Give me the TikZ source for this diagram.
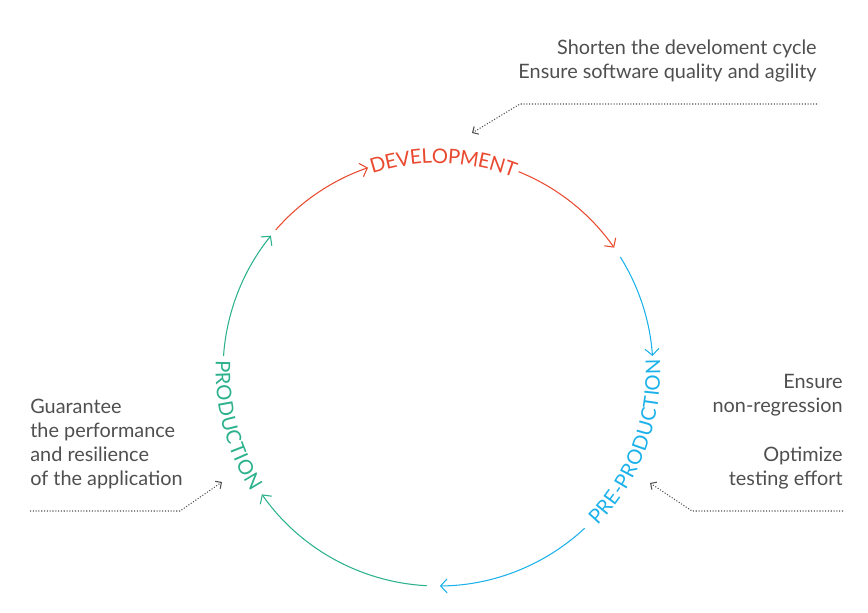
\documentclass[tikz,border=0pt]{standalone}
\usepackage{fontspec}
\setmainfont{Lato}
\usetikzlibrary{arrows.meta,decorations.text}
\definecolor{devred}{HTML}{E9492F}
\definecolor{preblue}{HTML}{1BB1EA}
\definecolor{prodgreen}{HTML}{2BB18C}
\definecolor{notegray}{HTML}{4F4F4F}
\newcommand{\phasefont}{\fontsize{11.5}{12}\selectfont}
\tikzset{
  cyclearc/.style={line width=0.6pt, -{Straight Barb[length=1.3mm,width=2.8mm]}},
  noteline/.style={notegray, line width=0.6pt, densely dotted, -{Straight Barb[length=0.9mm,width=1.8mm]}},
  note/.style={text=notegray, font=\fontsize{11.3}{13.7}\selectfont, inner sep=0pt},
}
\begin{document}
\begin{tikzpicture}[x=0.2mm,y=0.2mm]
  \useasboundingbox (0,0) rectangle (868,612);
  \coordinate (c) at (438,241);
  % development
  \draw[cyclearc, devred] (c) ++(139:43mm) arc[start angle=139, end angle=109, radius=43mm];
  \path[decorate, decoration={text along path, text={|\phasefont|DEVELOPMENT},
      text align=center, raise=-4.1pt, text color=devred}]
    (c) ++(118:43mm) arc[start angle=118, end angle=59, radius=43mm];
  \draw[cyclearc, devred] (c) ++(68:43mm) arc[start angle=68, end angle=35, radius=43mm];
  % pre-production
  \draw[cyclearc, preblue] (c) ++(32:43mm) arc[start angle=32, end angle=4, radius=43mm];
  \path[decorate, decoration={text along path, text={|\phasefont|PRE-PRODUCTION},
      text align=center, raise=-4.1pt, text color=preblue}]
    (c) ++(-50:43mm) arc[start angle=-50, end angle=9, radius=43mm];
  \draw[cyclearc, preblue] (c) ++(-47:43mm) arc[start angle=-47, end angle=-89.5, radius=43mm];
  % production
  \draw[cyclearc, prodgreen] (c) ++(267:43mm) arc[start angle=267, end angle=215, radius=43mm];
  \path[decorate, decoration={text along path, text={|\phasefont|PRODUCTION},
      text align=center, raise=-4.1pt, text color=prodgreen}]
    (c) ++(170:43mm) arc[start angle=170, end angle=220, radius=43mm];
  \draw[cyclearc, prodgreen] (c) ++(176:43mm) arc[start angle=176, end angle=141, radius=43mm];
  % notes
  \node[note, anchor=east, align=right] (devnote) at (817,551)
    {Shorten the develoment cycle\\Ensure software quality and agility};
  \node[note, anchor=east, align=right] (regnote) at (843,217)
    {Ensure\\non-regression};
  \node[note, anchor=east, align=right] (testnote) at (843,144)
    {Optimize\\testing effort};
  \node[note, anchor=west, align=left] (prodnote) at (30,168)
    {Guarantee\\the performance\\and resilience\\of the application};
  % dotted pointers
  \coordinate (devstart) at (817,508);
  \coordinate (devbend) at (520,508);
  \coordinate (devtip) at (472,479);
  \coordinate (prestart) at (843,101);
  \coordinate (prebend) at (692,101);
  \coordinate (pretip) at (650,129);
  \coordinate (prodstart) at (30,101);
  \coordinate (prodbend) at (180,101);
  \coordinate (prodtip) at (222,130);
  \draw[noteline] (devstart) -- (devbend) -- (devtip);
  \draw[noteline] (prestart) -- (prebend) -- (pretip);
  \draw[noteline] (prodstart) -- (prodbend) -- (prodtip);
\end{tikzpicture}
\end{document}
